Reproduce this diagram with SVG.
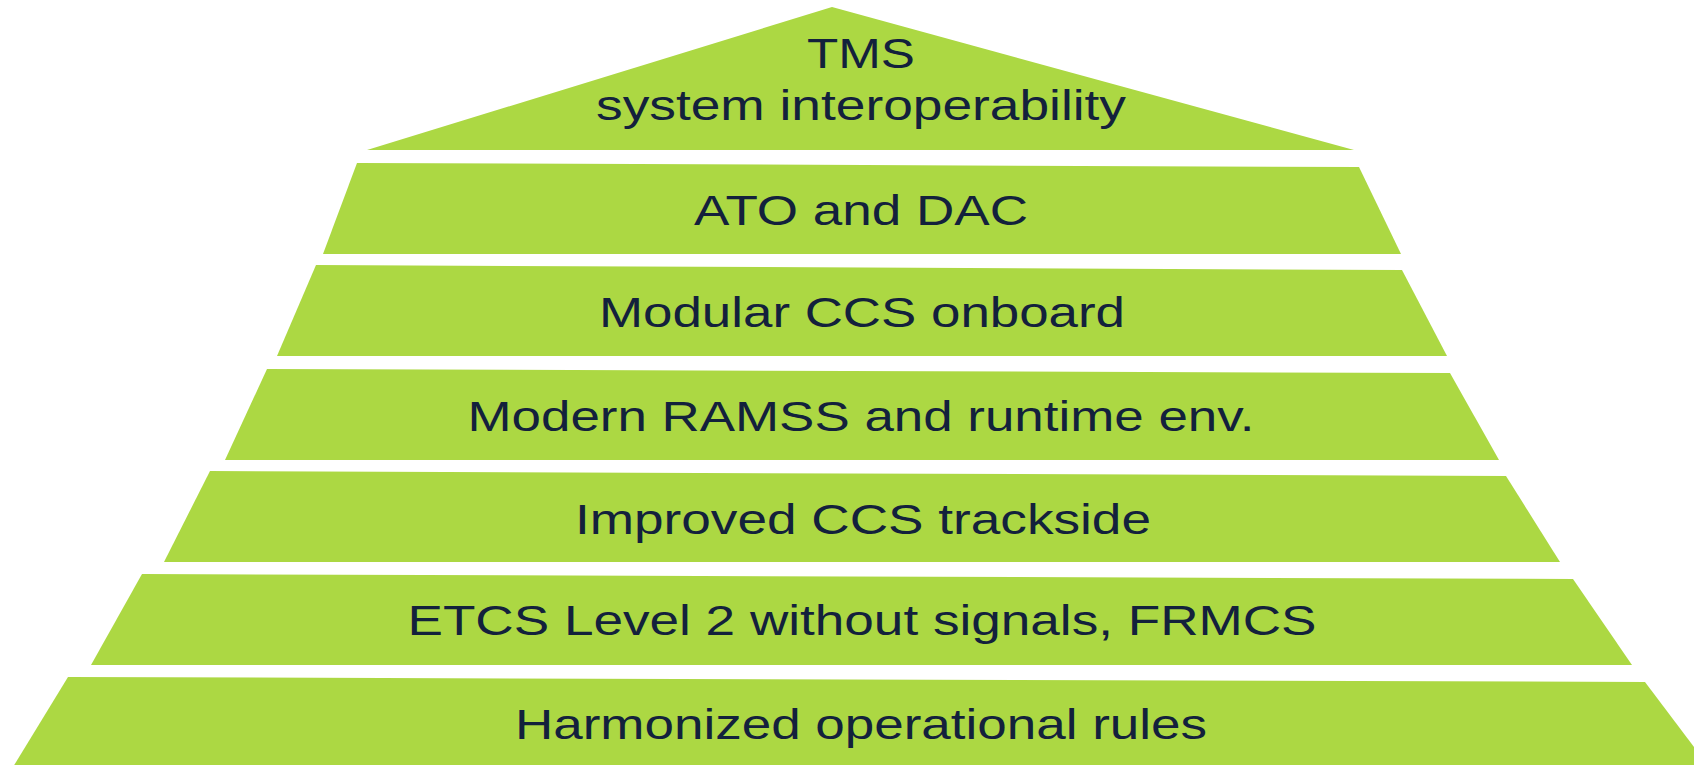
<svg xmlns="http://www.w3.org/2000/svg" width="1694" height="765" viewBox="0 0 1694 765">
  <style>
    .tier { fill: #acd843; }
    .label { font-family: "Liberation Sans", Arial, sans-serif; font-size: 43px; fill: #13213c; text-anchor: middle; }
  </style>
  <rect width="1694" height="765" fill="#ffffff"/>

  <g id="tier-tms">
    <polygon class="tier" points="832,7 1354,150 367,150"/>
    <text class="label" x="861" y="68" textLength="108" lengthAdjust="spacingAndGlyphs">TMS</text>
    <text class="label" x="861" y="120" textLength="530" lengthAdjust="spacingAndGlyphs">system interoperability</text>
  </g>

  <g id="tier-ato-dac">
    <polygon class="tier" points="357,163 1359,167 1401,254 323,254"/>
    <text class="label" x="861" y="225" textLength="334" lengthAdjust="spacingAndGlyphs">ATO and DAC</text>
  </g>

  <g id="tier-ccs-onboard">
    <polygon class="tier" points="316,265 1402,270 1447,356 277,356"/>
    <text class="label" x="862" y="327" textLength="526" lengthAdjust="spacingAndGlyphs">Modular CCS onboard</text>
  </g>

  <g id="tier-ramss">
    <polygon class="tier" points="267,369 1450,373 1499,460 225,460"/>
    <text class="label" x="861" y="431" textLength="787" lengthAdjust="spacingAndGlyphs">Modern RAMSS and runtime env.</text>
  </g>

  <g id="tier-ccs-trackside">
    <polygon class="tier" points="210,471 1506,476 1560,562 164,562"/>
    <text class="label" x="863" y="534" textLength="576" lengthAdjust="spacingAndGlyphs">Improved CCS trackside</text>
  </g>

  <g id="tier-etcs">
    <polygon class="tier" points="142,574 1573,579 1632,665 91,665"/>
    <text class="label" x="862" y="635" textLength="909" lengthAdjust="spacingAndGlyphs">ETCS Level 2 without signals, FRMCS</text>
  </g>

  <g id="tier-rules">
    <polygon class="tier" points="68,677 1645,682 1709,767 13,767"/>
    <text class="label" x="861" y="739" textLength="692" lengthAdjust="spacingAndGlyphs">Harmonized operational rules</text>
  </g>

  <g id="connectors"></g>
</svg>
